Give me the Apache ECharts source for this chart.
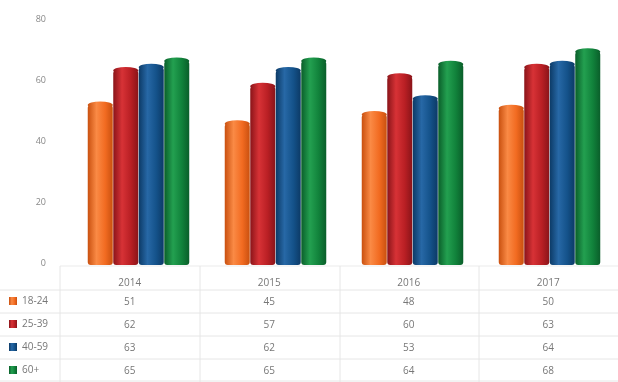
<!DOCTYPE html>
<html><head><meta charset="utf-8">
<script src="https://cdn.jsdelivr.net/npm/echarts@6/dist/echarts.min.js"></script>
<style>html,body{margin:0;padding:0;background:#fff}#c{width:618px;height:382px}</style>
</head><body><div id="c"></div>
<script>
var categories = ['2014', '2015', '2016', '2017'];
var seriesNames = ['18-24', '25-39', '40-59', '60+'];
var s1824 = [51, 45, 48, 50];
var s2539 = [62, 57, 60, 63];
var s4059 = [63, 62, 53, 64];
var s60p = [65, 65, 64, 68];
var yTicks = [0, 20, 40, 60, 80];

var allData = [s1824, s2539, s4059, s60p];
var baseColors = ['#F26B21', '#B91F24', '#14528A', '#11823B'];
var lightColors = ['#FA8A45', '#D73236', '#2768A6', '#23A050'];
var darkColors = ['#C9500F', '#8A1419', '#0C3A66', '#0A5E2A'];

function grad(i) {
  return new echarts.graphic.LinearGradient(0, 0, 1, 0, [
    {offset: 0, color: darkColors[i]},
    {offset: 0.35, color: lightColors[i]},
    {offset: 0.7, color: baseColors[i]},
    {offset: 1, color: darkColors[i]}
  ]);
}

var chart = echarts.init(document.getElementById('c'), null, {renderer: 'canvas'});
var series = [];
seriesNames.forEach(function (n, i) {
  series.push({
    name: n, type: 'bar', data: allData[i], barWidth: 25, barGap: '2%',
    xAxisIndex: 0, yAxisIndex: 0,
    itemStyle: {color: grad(i), borderRadius: [3, 3, 3, 3]}, z: 2
  });
});
seriesNames.forEach(function (n, i) {
  series.push({
    name: n, type: 'pictorialBar', data: allData[i], barWidth: 25, barGap: '2%',
    xAxisIndex: 0, yAxisIndex: 0,
    symbol: 'circle', symbolSize: [25, 7], symbolPosition: 'end', symbolOffset: [0, '-50%'],
    itemStyle: {color: grad(i)}, z: 3, silent: true
  });
});

var tableLines = [];
var hy = [290, 313, 336, 359];
hy.forEach(function (y) {
  tableLines.push({type: 'line', shape: {x1: 0, y1: y, x2: 618, y2: y}, style: {stroke: '#E6E6E6', lineWidth: 1}});
});
tableLines.push({type: 'line', shape: {x1: 60, y1: 266, x2: 618, y2: 266}, style: {stroke: '#EBEBEB', lineWidth: 1}});
tableLines.push({type: 'line', shape: {x1: 0, y1: 381, x2: 618, y2: 381}, style: {stroke: '#E6E6E6', lineWidth: 1}});
[60, 200, 340, 479].forEach(function (x) {
  tableLines.push({type: 'line', shape: {x1: x, y1: 266, x2: x, y2: 382}, style: {stroke: '#E6E6E6', lineWidth: 1}});
});

chart.setOption({
  animation: false,
  textStyle: {fontFamily: 'Open Sans'},
  grid: [
    {left: 70, right: -10, top: 14, bottom: 117},
    {left: 60, right: 0, top: 19, bottom: 119}
  ],
  legend: {
    orient: 'vertical', left: 9, top: 296, padding: 0, itemGap: 13, itemWidth: 8, itemHeight: 8,
    icon: 'rect', data: seriesNames, textStyle: {fontSize: 10, color: '#777'}
  },
  xAxis: [
    {type: 'category', data: categories, gridIndex: 0,
     axisLine: {show: false}, axisTick: {show: false}, axisLabel: {show: false}},
    {type: 'category', data: categories, gridIndex: 1,
     axisLine: {show: false}, axisTick: {show: false},
     axisLabel: {
       margin: 13, fontSize: 10, color: '#777',
       rich: {h: {lineHeight: 15, fontSize: 10, color: '#777'}, v: {lineHeight: 23, fontSize: 10, color: '#777'}},
       formatter: function (v, idx) {
         return ['{h|' + v + '}'].concat(allData.map(function (d) { return '{v|' + d[idx] + '}'; })).join('\n');
       }
     }}
  ],
  yAxis: [
    {type: 'value', min: 0, max: 80, interval: 20, gridIndex: 0, show: false},
    {type: 'value', min: 0, max: 80, interval: 20, gridIndex: 1,
     axisLine: {show: false}, axisTick: {show: false}, splitLine: {show: false},
     axisLabel: {margin: 14, fontSize: 9, color: '#888',
       formatter: function (v) { return yTicks.indexOf(v) >= 0 ? String(v) : ''; }}}
  ],
  graphic: tableLines,
  series: series
});
</script></body></html>
